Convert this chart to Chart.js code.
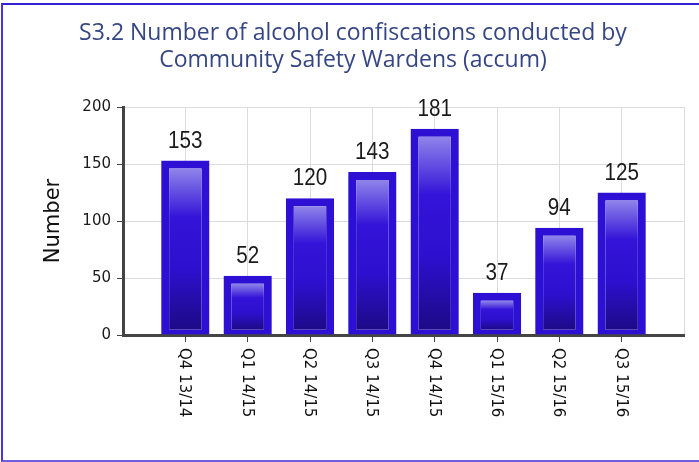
<!DOCTYPE html>
<html>
<head>
<meta charset="utf-8">
<script src="https://cdn.jsdelivr.net/npm/chart.js@4"></script>
<style>
  html, body { margin: 0; padding: 0; background: #fff; overflow: hidden; }
  #wrap { position: relative; width: 699px; height: 462px; }
  #frame { position: absolute; left: 1px; top: 3px; width: 760px; height: 455px;
           border-top: 2px solid #3320d4; border-left: 2px solid #4a36d8; border-bottom: 2px solid #6e5fe0;
           pointer-events: none; z-index: 2; }
  canvas { position: absolute; left: 0; top: 0; }
</style>
</head>
<body>
<div id="wrap">
  <canvas id="c" width="699" height="462"></canvas>
  <div id="frame"></div>
</div>
<script>
const titleLines = ['S3.2 Number of alcohol confiscations conducted by', 'Community Safety Wardens (accum)'];
const categories = ['Q4 13/14', 'Q1 14/15', 'Q2 14/15', 'Q3 14/15', 'Q4 14/15', 'Q1 15/16', 'Q2 15/16', 'Q3 15/16'];
const values = [153, 52, 120, 143, 181, 37, 94, 125];
const yTicks = [0, 50, 100, 150, 200];
const yTitle = 'Number';

// pad one empty slot on each side so the plot spans 9 category gaps
const labels = [''].concat(categories, ['']);
const data = [null].concat(values, [null]);

function barFill(ctx) {
  const chart = ctx.chart;
  if (!chart.chartArea || ctx.type !== 'data' || ctx.raw == null) return '#2d10d4';
  const y = chart.scales.y;
  const top = y.getPixelForValue(ctx.raw) + 8;
  const bot = y.getPixelForValue(0) - 5;
  const g = chart.ctx.createLinearGradient(0, top, 0, bot);
  g.addColorStop(0, '#8f84ea');
  g.addColorStop(0.3, '#3414d8');
  g.addColorStop(0.62, '#2d10cf');
  g.addColorStop(1, '#1c0a86');
  return g;
}

const valueLabels = {
  id: 'valueLabels',
  afterDatasetsDraw(chart) {
    const c = chart.ctx;
    const meta = chart.getDatasetMeta(0);
    c.save();
    c.font = '24px "Liberation Sans", Arial, sans-serif';
    c.fillStyle = '#1a1a1a';
    c.textAlign = 'center';
    c.textBaseline = 'alphabetic';
    meta.data.forEach((el, i) => {
      const v = data[i];
      if (v == null) return;
      c.save();
      c.translate(el.x, el.y - 13);
      c.scale(0.86, 1);
      c.fillText(String(v), 0, 0);
      c.restore();
    });
    c.restore();
  }
};

const xLabels = {
  id: 'xLabels',
  afterDraw(chart) {
    const c = chart.ctx;
    const xs = chart.scales.x;
    c.save();
    c.font = '15px "DejaVu Sans", Verdana, sans-serif';
    c.fillStyle = '#111';
    c.textAlign = 'left';
    c.textBaseline = 'middle';
    labels.forEach((lab, i) => {
      if (!lab) return;
      const x = xs.getPixelForTick(i);
      c.save();
      c.translate(x - 1, xs.top + 13);
      c.rotate(Math.PI / 2);
      c.fillText(lab, 0, 0);
      c.restore();
    });
    c.restore();
  }
};

new Chart(document.getElementById('c'), {
  type: 'bar',
  data: {
    labels: labels,
    datasets: [{
      data: data,
      backgroundColor: barFill,
      borderColor: '#2d10d4',
      borderWidth: { left: 8, right: 8, top: 8, bottom: 5 },
      borderSkipped: false,
      categoryPercentage: 1,
      barPercentage: 0.775
    }]
  },
  options: {
    responsive: false,
    animation: false,
    events: [],
    layout: { padding: { left: 22, right: 15, top: 0, bottom: 0 } },
    plugins: {
      legend: { display: false },
      tooltip: { enabled: false },
      title: {
        display: true,
        text: titleLines,
        color: '#354684',
        font: { family: '"Open Sans", sans-serif', size: 23, lineHeight: 27 / 23, weight: 'normal' },
        padding: { top: 20, bottom: 33 }
      }
    },
    scales: {
      x: {
        offset: false,
        grid: {
          offset: false,
          color: '#dcdcdc',
          lineWidth: 1,
          tickLength: 7,
          tickColor: (ctx) => (ctx.index === 0 || ctx.index === labels.length - 1) ? 'rgba(0,0,0,0)' : '#444'
        },
        border: { display: true, color: '#444', width: 3 },
        ticks: { display: false },
        afterFit(scale) { scale.height = 127; }
      },
      y: {
        min: yTicks[0],
        max: yTicks[yTicks.length - 1],
        afterBuildTicks(scale) { scale.ticks = yTicks.map(v => ({ value: v })); },
        grid: { color: '#dcdcdc', lineWidth: 1, tickLength: 6, tickColor: '#444' },
        border: { display: true, color: '#444', width: 3 },
        ticks: {
          padding: 6,
          color: '#1a1a1a',
          font: { family: '"DejaVu Sans", Verdana, sans-serif', size: 15 }
        },
        title: {
          display: true,
          text: yTitle,
          color: '#111',
          font: { family: '"DejaVu Sans", Verdana, sans-serif', size: 21 },
          padding: { top: 19, bottom: 0 }
        },
        afterFit(scale) { scale.width = 101; }
      }
    }
  },
  plugins: [valueLabels, xLabels]
});
</script>
</body>
</html>
